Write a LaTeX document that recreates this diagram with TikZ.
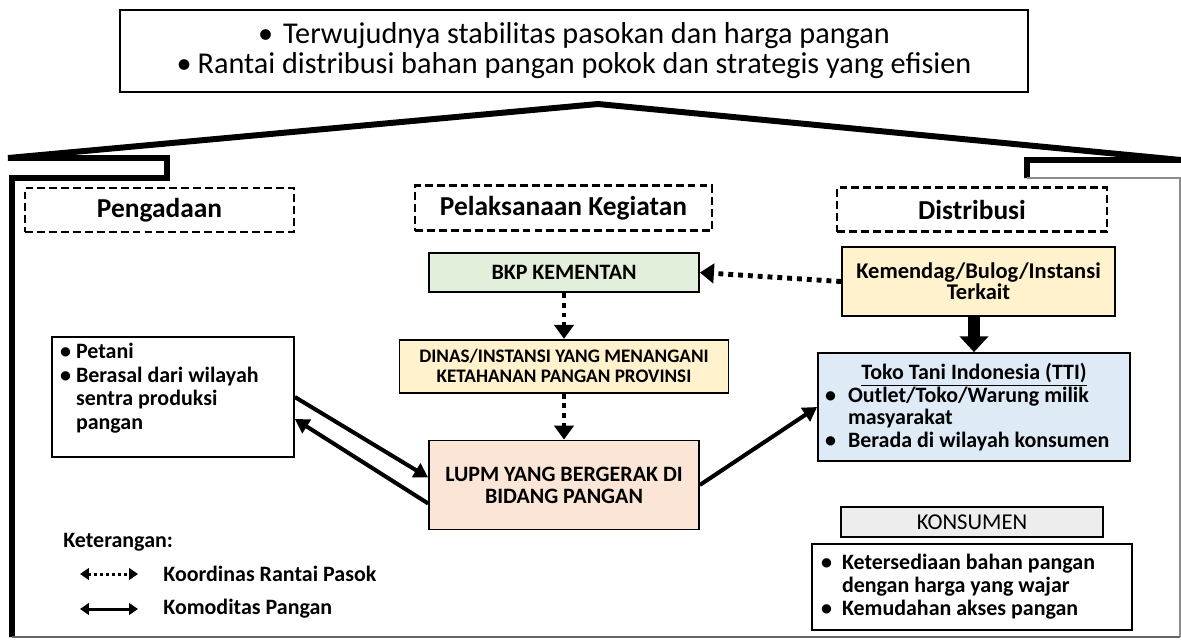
\documentclass[tikz,border=0pt]{standalone}
\usepackage{fontspec}
\setmainfont{Carlito}
\usetikzlibrary{arrows.meta, positioning}
\definecolor{BkpGreen}{HTML}{E2EFDA}
\definecolor{DinasYellow}{HTML}{FFF2CC}
\definecolor{LupmPeach}{HTML}{FBE5D6}
\definecolor{TtiBlue}{HTML}{DEEAF6}
\definecolor{KonsGray}{HTML}{EDEDED}
\newcommand{\bulmark}[1]{\makebox[#1][l]{•}}
\tikzset{
  % Box styles
  goalbox/.style={rectangle, draw, line width=1pt, minimum width=18.16cm, minimum height=1.64cm, font=\fontsize{17.2}{17}\selectfont, align=center},
  headbox/.style={rectangle, draw, line width=1.2pt, dash pattern=on 4.5pt off 2.3pt, minimum height=0.88cm, font=\fontsize{15.6}{18}\selectfont\bfseries},
  procbox/.style={rectangle, draw, line width=1pt, align=center, font=\fontsize{12.5}{12.5}\selectfont\bfseries},
  listbox/.style={rectangle, draw, line width=1pt, align=flush left, font=\fontsize{12.5}{13}\selectfont\bfseries},
  legendtext/.style={anchor=west, inner sep=0pt, font=\fontsize{12.5}{13}\selectfont\bfseries},
  % Arrow styles
  flowarrow/.style={line width=2.3pt, -{Triangle[length=8pt, width=9pt]}},
  coordarrow/.style={line width=2.8pt, dash pattern=on 2.8pt off 2.8pt, -{Triangle[length=8pt, width=11pt]}},
  bigarrow/.style={line width=6.5pt, -{Triangle[length=9pt, width=16pt]}},
  legdotted/.style={line width=1.7pt, dash pattern=on 1.7pt off 1.7pt, {Triangle[length=5pt, width=6.5pt]}-{Triangle[length=5pt, width=6.5pt]}},
  legsolid/.style={line width=1.7pt, {Triangle[length=5pt, width=6.5pt]}-{Triangle[length=5pt, width=6.5pt]}},
  % Frame style
  frameline/.style={line width=3.4pt, line join=miter}
}

\begin{document}
\begin{tikzpicture}[x=0.02cm, y=-0.02cm]
  \useasboundingbox (0,0) rectangle (1181,640);

  % Goal box on top
  \node[goalbox] (goal) at (574,51) {\bulmark{0.5cm}Terwujudnya stabilitas pasokan dan harga pangan\\\bulmark{0.42cm}Rantai distribusi bahan pangan pokok dan strategis yang efisien};

  % House frame
  \draw[frameline] (12,637) -- (12,178) -- (167,178) -- (167,158) -- (8,158) -- (598,104) -- (1181,160) -- (1027,160) -- (1027,178);
  \draw[black!45, line width=0.8pt] (1027,178) -- (1180,178) -- (1180,637);
  \draw[black!60, line width=1.5pt] (1180,637) -- (12,637);

  % Column headers
  \node[headbox, minimum width=5.38cm] (hproc) at (159.5,210) {Pengadaan};
  \node[headbox, minimum width=5.94cm, minimum height=0.9cm] (hexec) at (563.5,208) {Pelaksanaan Kegiatan};
  \node[headbox, minimum width=5.4cm] (hdist) at (972,209.5) {Distribusi};

  % Middle column
  \node[procbox, fill=BkpGreen, minimum width=5.4cm, minimum height=0.78cm] (bkp) at (564,272.5) {BKP KEMENTAN};
  \node[procbox, fill=DinasYellow, minimum width=6.58cm, minimum height=1.06cm, font=\fontsize{10.9}{11.3}\selectfont\bfseries, below=0.92cm of bkp] (dinas) {DINAS/INSTANSI YANG MENANGANI\\KETAHANAN PANGAN PROVINSI};
  \node[procbox, fill=LupmPeach, minimum width=5.4cm, minimum height=1.78cm, below=0.92cm of dinas] (lupm) {LUPM YANG BERGERAK DI\\BIDANG PANGAN};

  % Left column
  \node[listbox, minimum width=4.84cm, minimum height=2.4cm, text width=4.52cm, inner xsep=0.16cm, font=\fontsize{12.5}{13.4}\selectfont\bfseries] (petani) at (173,397) {\bulmark{0.32cm}Petani\\\bulmark{0.32cm}Berasal dari wilayah\\\hspace*{0.32cm}sentra produksi\\\hspace*{0.32cm}pangan\\[-1.3pt]\mbox{}};

  % Right column
  \node[procbox, fill=DinasYellow, minimum width=5.46cm, minimum height=1.38cm, font=\fontsize{12.8}{12}\selectfont\bfseries] (kemendag) at (978.5,281.5) {Kemendag/Bulog/Instansi\\Terkait};
  \node[listbox, fill=TtiBlue, minimum width=6.24cm, minimum height=2.16cm, text width=5.96cm, inner xsep=0.14cm] (tti) at (974,407) {\makebox[\linewidth]{\underline{Toko Tani Indonesia (TTI)}}\\\bulmark{0.46cm}Outlet/Toko/Warung milik\\\hspace*{0.46cm}masyarakat\\\bulmark{0.46cm}Berada di wilayah konsumen};
  \node[procbox, fill=KonsGray, minimum width=5.24cm, minimum height=0.6cm, font=\fontsize{12.9}{13}\selectfont] (konsumen) at (972,522) {KONSUMEN};
  \node[listbox, minimum width=6.4cm, minimum height=1.72cm, text width=6.04cm, inner xsep=0.18cm, below=0.1cm of konsumen] (akses) {\bulmark{0.42cm}Ketersediaan bahan pangan\\\hspace*{0.42cm}dengan harga yang wajar\\\bulmark{0.42cm}Kemudahan akses pangan};

  % Connectors
  \draw[coordarrow] (kemendag.west) -- (bkp.east);
  \draw[coordarrow] (bkp.south) -- (dinas.north);
  \draw[coordarrow] (dinas.south) -- (lupm.north);
  \draw[bigarrow] (kemendag.south -| tti.north) -- (tti.north);
  \draw[flowarrow] (petani.east) -- ([yshift=0.15cm]lupm.west);
  \draw[flowarrow] ([yshift=-0.37cm]lupm.west) -- ([yshift=-0.44cm]petani.east);
  \draw[flowarrow] (lupm.east) -- (tti.west);

  % Legend
  \node[legendtext] (legtitle) at (63,542) {Keterangan:};
  \node[legendtext] (legcoord) at (163,574) {Koordinas Rantai Pasok};
  \node[legendtext] (legflow) at (163,609) {Komoditas Pangan};
  \draw[legdotted] ([xshift=-1.66cm]legcoord.west) -- ([xshift=-0.5cm]legcoord.west);
  \draw[legsolid] ([xshift=-1.66cm]legflow.west) -- ([xshift=-0.5cm]legflow.west);
\end{tikzpicture}
\end{document}
